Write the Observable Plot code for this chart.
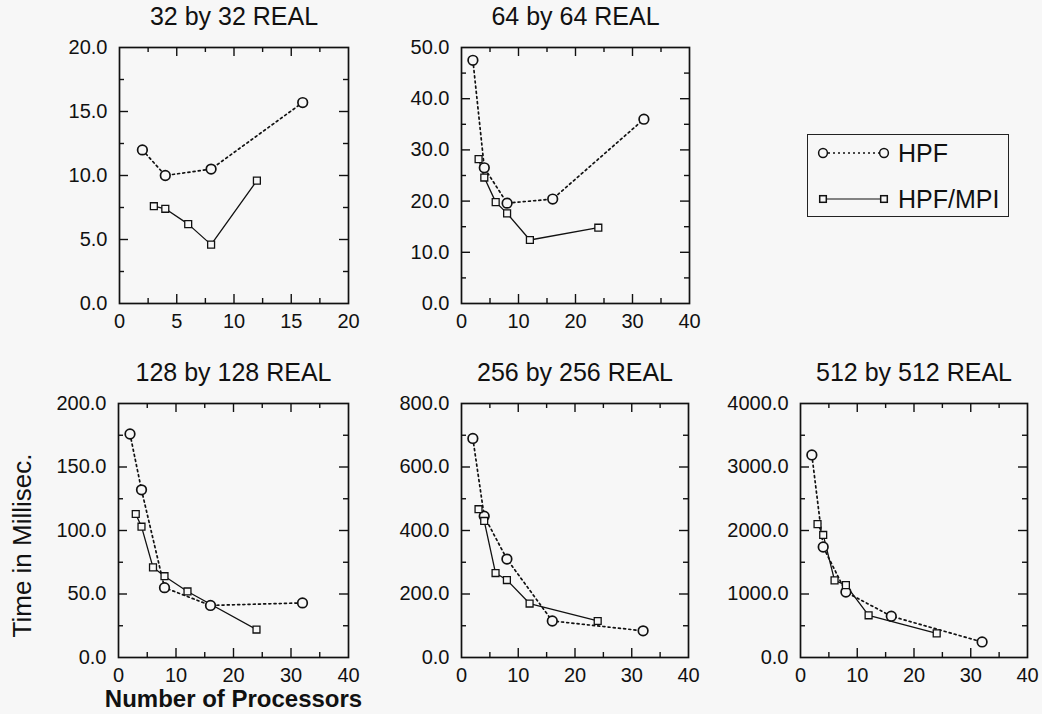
<!DOCTYPE html>
<html><head><meta charset="utf-8">
<script src="https://cdn.jsdelivr.net/npm/d3@7"></script>
<script src="https://cdn.jsdelivr.net/npm/@observablehq/plot@0.6"></script>
<style>
html,body{margin:0;padding:0;background:#f7f7f7;}
#chart{position:relative;width:1042px;height:714px;font-family:"Liberation Sans",Arial,Helvetica,sans-serif;color:#111;}
#chart svg{position:absolute;overflow:visible;}
#legend{position:absolute;border:1.5px solid #222;box-sizing:border-box;}
</style></head><body><div id="chart"></div>
<script>
// ---- data ----
const panelTitles = ["32 by 32 REAL","64 by 64 REAL","128 by 128 REAL","256 by 256 REAL","512 by 512 REAL"];
const seriesNames = ["HPF","HPF/MPI"];

const hpfProcs32 = [2,4,8,16];        const hpfTime32 = [12.0,10.0,10.5,15.7];
const mpiProcs32 = [3,4,6,8,12];      const mpiTime32 = [7.6,7.4,6.2,4.6,9.6];

const hpfProcs64 = [2,4,8,16,32];     const hpfTime64 = [47.5,26.5,19.6,20.4,36.0];
const mpiProcs64 = [3,4,6,8,12,24];   const mpiTime64 = [28.2,24.6,19.8,17.6,12.4,14.8];

const hpfProcs128 = [2,4,8,16,32];    const hpfTime128 = [176,132,55,41,43];
const mpiProcs128 = [3,4,6,8,12,24];  const mpiTime128 = [113,103,71,64,52,22];

const hpfProcs256 = [2,4,8,16,32];    const hpfTime256 = [690,445,310,115,84];
const mpiProcs256 = [3,4,6,8,12,24];  const mpiTime256 = [467,430,266,244,170,115];

const hpfProcs512 = [2,4,8,16,32];    const hpfTime512 = [3190,1740,1030,650,245];
const mpiProcs512 = [3,4,6,8,12,24];  const mpiTime512 = [2100,1930,1215,1140,665,380];

const xTicks20 = [0,5,10,15,20];
const xTicks40 = [0,10,20,30,40];
const yTicks32 = [0,5,10,15,20];
const yTicks64 = [0,10,20,30,40,50];
const yTicks128 = [0,50,100,150,200];
const yTicks256 = [0,200,400,600,800];
const yTicks512 = [0,1000,2000,3000,4000];

const xAxisTitle = "Number of Processors";
const yAxisTitle = "Time in Millisec.";

// ---- layout ----
const frames = [
  {x:119, y:47,  w:229, h:256},
  {x:461, y:47,  w:228, h:256},
  {x:118, y:403, w:230, h:254},
  {x:461, y:403, w:227, h:254},
  {x:800, y:403, w:227, h:254}
];
const BG = "#f7f7f7", INK = "#111";
const FONT = '"Liberation Sans", Arial, Helvetica, sans-serif';

const zip = (xs, ys) => xs.map((x, i) => ({procs: x, time: ys[i]}));
const mids = t => t.slice(0, -1).map((v, i) => (v + t[i + 1]) / 2);

const panels = [
  {title: panelTitles[0], xT: xTicks20, yT: yTicks32,  hpf: zip(hpfProcs32, hpfTime32),   mpi: zip(mpiProcs32, mpiTime32)},
  {title: panelTitles[1], xT: xTicks40, yT: yTicks64,  hpf: zip(hpfProcs64, hpfTime64),   mpi: zip(mpiProcs64, mpiTime64)},
  {title: panelTitles[2], xT: xTicks40, yT: yTicks128, hpf: zip(hpfProcs128, hpfTime128), mpi: zip(mpiProcs128, mpiTime128), axisTitles: true},
  {title: panelTitles[3], xT: xTicks40, yT: yTicks256, hpf: zip(hpfProcs256, hpfTime256), mpi: zip(mpiProcs256, mpiTime256)},
  {title: panelTitles[4], xT: xTicks40, yT: yTicks512, hpf: zip(hpfProcs512, hpfTime512), mpi: zip(mpiProcs512, mpiTime512)}
];

const chart = document.getElementById("chart");
const mL = 118, mR = 14, mT = 50, mB = 60;

panels.forEach((p, i) => {
  const f = frames[i];
  const xMajor = p.xT.slice(1, -1), yMajor = p.yT.slice(1, -1);
  const xMinor = mids(p.xT), yMinor = mids(p.yT);
  const big = 9, small = 5;
  const marks = [
    Plot.frame({stroke: INK, strokeWidth: 1.7}),
    Plot.tickX(xMajor, {x: d => d, insetTop: f.h - big, stroke: INK, strokeWidth: 1.4}),
    Plot.tickX(xMajor, {x: d => d, insetBottom: f.h - big, stroke: INK, strokeWidth: 1.4}),
    Plot.tickX(xMinor, {x: d => d, insetTop: f.h - small, stroke: INK, strokeWidth: 1.4}),
    Plot.tickX(xMinor, {x: d => d, insetBottom: f.h - small, stroke: INK, strokeWidth: 1.4}),
    Plot.tickY(yMajor, {y: d => d, insetRight: f.w - big, stroke: INK, strokeWidth: 1.4}),
    Plot.tickY(yMajor, {y: d => d, insetLeft: f.w - big, stroke: INK, strokeWidth: 1.4}),
    Plot.tickY(yMinor, {y: d => d, insetRight: f.w - small, stroke: INK, strokeWidth: 1.4}),
    Plot.tickY(yMinor, {y: d => d, insetLeft: f.w - small, stroke: INK, strokeWidth: 1.4}),
    Plot.axisX({ticks: p.xT, tickSize: 0, tickPadding: 10, tickFormat: d => String(d), label: null, fontSize: 20}),
    Plot.axisY({ticks: p.yT, tickSize: 0, tickPadding: 12, tickFormat: d => d.toFixed(1), label: null, fontSize: 20}),
    Plot.line(p.hpf, {x: "procs", y: "time", stroke: INK, strokeWidth: 1.7, strokeDasharray: "2,3.2"}),
    Plot.line(p.mpi, {x: "procs", y: "time", stroke: INK, strokeWidth: 1.3}),
    Plot.dot(p.hpf, {x: "procs", y: "time", r: 4.8, fill: BG, stroke: INK, strokeWidth: 1.7}),
    Plot.dot(p.mpi, {x: "procs", y: "time", symbol: "square", r: 3.9, fill: BG, stroke: INK, strokeWidth: 1.3}),
    Plot.text([p.title], {frameAnchor: "top", lineAnchor: "middle", dy: -31, fontSize: 25, fill: INK})
  ];
  if (p.axisTitles) {
    marks.push(Plot.text([yAxisTitle], {frameAnchor: "left", textAnchor: "middle", lineAnchor: "middle", rotate: -90, dx: -96, dy: 15, fontSize: 26, fill: INK}));
    marks.push(Plot.text([xAxisTitle], {frameAnchor: "bottom", textAnchor: "middle", lineAnchor: "middle", dy: 42, fontSize: 24, fontWeight: "bold", fill: INK}));
  }
  const svg = Plot.plot({
    width: mL + f.w + mR, height: mT + f.h + mB,
    marginLeft: mL, marginRight: mR, marginTop: mT, marginBottom: mB,
    x: {domain: [p.xT[0], p.xT[p.xT.length - 1]]},
    y: {domain: [p.yT[0], p.yT[p.yT.length - 1]]},
    style: {background: "transparent", fontFamily: FONT, fontSize: "20px", color: INK, overflow: "visible"},
    marks
  });
  svg.style.left = (f.x - mL) + "px";
  svg.style.top = (f.y - mT) + "px";
  chart.appendChild(svg);
});

// ---- legend ----
const lg = document.createElement("div");
lg.id = "legend";
Object.assign(lg.style, {left: "807px", top: "134px", width: "202px", height: "83px"});
const NS = "http://www.w3.org/2000/svg";
const ls = document.createElementNS(NS, "svg");
ls.setAttribute("width", 200); ls.setAttribute("height", 81);
ls.style.position = "absolute"; ls.style.left = "0"; ls.style.top = "0";
const rows = [{y: 18, dash: "2,3", name: seriesNames[0], sym: "circle"}, {y: 64, dash: null, name: seriesNames[1], sym: "square"}];
rows.forEach(r => {
  const line = document.createElementNS(NS, "line");
  line.setAttribute("x1", 15); line.setAttribute("x2", 76); line.setAttribute("y1", r.y); line.setAttribute("y2", r.y);
  line.setAttribute("stroke", INK); line.setAttribute("stroke-width", r.dash ? 1.6 : 1.2);
  if (r.dash) line.setAttribute("stroke-dasharray", r.dash);
  ls.appendChild(line);
  [15, 76].forEach(cx => {
    let m;
    if (r.sym === "circle") {
      m = document.createElementNS(NS, "circle");
      m.setAttribute("cx", cx); m.setAttribute("cy", r.y); m.setAttribute("r", 4.4);
    } else {
      m = document.createElementNS(NS, "rect");
      m.setAttribute("x", cx - 3.3); m.setAttribute("y", r.y - 3.3); m.setAttribute("width", 6.6); m.setAttribute("height", 6.6);
    }
    m.setAttribute("fill", BG); m.setAttribute("stroke", INK); m.setAttribute("stroke-width", 1.5);
    ls.appendChild(m);
  });
  const t = document.createElementNS(NS, "text");
  t.setAttribute("x", 90); t.setAttribute("y", r.y); t.setAttribute("dy", "0.36em");
  t.setAttribute("font-size", 25); t.setAttribute("font-family", FONT); t.setAttribute("fill", INK);
  t.textContent = r.name;
  ls.appendChild(t);
});
lg.appendChild(ls);
chart.appendChild(lg);
</script>
</body></html>
